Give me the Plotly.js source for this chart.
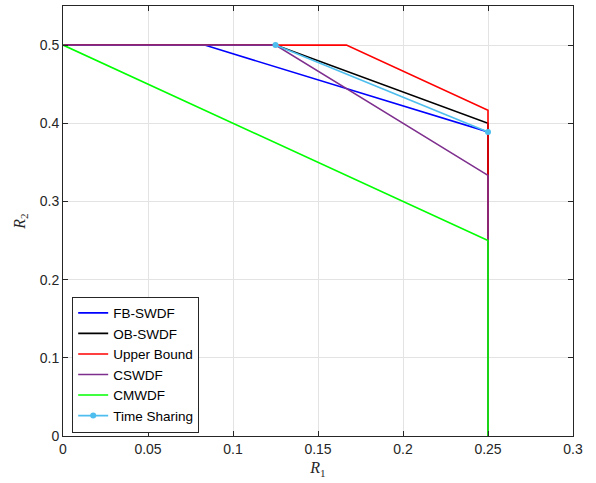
<!DOCTYPE html>
<html><head><meta charset="utf-8">
<script src="https://cdn.plot.ly/plotly-3.0.1.min.js"></script>
<style>body{margin:0;background:#fff}#g{width:596px;height:483px}</style>
</head><body><div id="g"></div>
<script>
const seriesNames = ["FB-SWDF","OB-SWDF","Upper Bound","CSWDF","CMWDF","Time Sharing"];
const fbX = [0, 0.0833, 0.25, 0.25];
const fbY = [0.5, 0.5, 0.3889, 0];
const obX = [0, 0.125, 0.25, 0.25];
const obY = [0.5, 0.5, 0.4, 0];
const ubX = [0, 0.1667, 0.25, 0.25];
const ubY = [0.5, 0.5, 0.4167, 0];
const csX = [0, 0.125, 0.25, 0.25];
const csY = [0.5, 0.5, 0.3333, 0];
const cmX = [0, 0.25, 0.25];
const cmY = [0.5, 0.25, 0];
const tsX = [0.125, 0.25];
const tsY = [0.5, 0.3889];
const xTicks = [0,0.05,0.1,0.15,0.2,0.25,0.3];
const xTickText = ['0','0.05','0.1','0.15','0.2','0.25','0.3'];
const yTicks = [0,0.1,0.2,0.3,0.4,0.5];
const yTickText = ['0','0.1','0.2','0.3','0.4','0.5'];
const colors = ["#0000FF","#000000","#FF0000","#7E2F8E","#00FF00","#4DBEEE"];
const xs=[fbX,obX,ubX,csX,cmX,tsX], ys=[fbY,obY,ubY,csY,cmY,tsY];
const data = seriesNames.map((n,i)=>({
  x:xs[i], y:ys[i], name:n, type:'scatter',
  mode: i===5 ? 'lines+markers' : 'lines',
  line:{color:colors[i], width:1.6},
  marker:{color:colors[i], size:6, symbol:'circle'}
}));
const axBase = {
  showline:true, linecolor:'#262626', linewidth:1, mirror:'allticks',
  ticks:'inside', ticklen:5, tickcolor:'#262626',
  showgrid:true, gridcolor:'#e3e3e3', gridwidth:1, zeroline:false,
  tickfont:{family:'Liberation Sans, Arial, sans-serif', size:14, color:'#262626'}
};
const layout = {
  width:596, height:483,
  margin:{l:63, r:23, t:6, b:47},
  paper_bgcolor:'#fff', plot_bgcolor:'#fff',
  showlegend:true,
  xaxis: Object.assign({}, axBase, {range:[0,0.3], tickvals:xTicks, ticktext:xTickText,
     title:{text:'<i>R</i><sub>1</sub>', standoff:6, font:{family:'Liberation Serif, Times New Roman, serif', size:16, color:'#262626'}}}),
  yaxis: Object.assign({}, axBase, {range:[0,0.55], tickvals:yTicks, ticktext:yTickText,
     title:{text:'<i>R</i><sub>2</sub>', standoff:10, font:{family:'Liberation Serif, Times New Roman, serif', size:16, color:'#262626'}}}),
  legend:{x:0.018, y:0.008, xanchor:'left', yanchor:'bottom', bgcolor:'#fff',
     bordercolor:'#262626', borderwidth:1, tracegroupgap:0, itemwidth:30,
     font:{family:'Liberation Sans, Arial, sans-serif', size:13.5, color:'#000'}}
};
Plotly.newPlot('g', data, layout, {displayModeBar:false, staticPlot:true});
</script></body></html>
